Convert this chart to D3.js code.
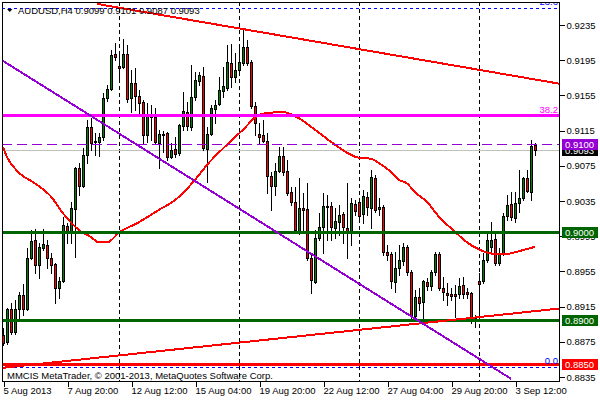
<!DOCTYPE html>
<html><head><meta charset="utf-8">
<script src="https://cdn.jsdelivr.net/npm/d3@7"></script>
<style>
body{margin:0;background:#fff}
svg{display:block}
text{font-family:"Liberation Sans",Arial,sans-serif;font-size:9.5px}
</style>
</head><body>
<svg id="c" width="600" height="400"></svg>
<script>
// ---- data (AUDUSD H4) ----
const opens=[0.8883,0.8875,0.8912,0.8886,0.8912,0.8928,0.8912,0.8970,0.8991,0.8962,
0.8982,0.8985,0.8970,0.8963,0.8936,0.8944,0.9007,0.8999,0.9026,0.9073,
0.9052,0.9087,0.9119,0.9103,0.9102,0.9108,0.9152,0.9162,0.9202,0.9188,
0.9187,0.9202,0.9152,0.9169,0.9154,0.9147,0.9110,0.9133,0.9130,0.9101,
0.9111,0.9112,0.9085,0.9094,0.9090,0.9120,0.9136,0.9119,0.9153,0.9171,
0.9177,0.9094,0.9111,0.9140,0.9145,0.9160,0.9163,0.9192,0.9176,0.9184,
0.9192,0.9210,0.9193,0.9143,0.9111,0.9110,0.9103,0.9063,0.9052,0.9069,
0.9086,0.9069,0.9045,0.9034,0.9000,0.9027,0.9026,0.8970,0.8943,0.8993,
0.9005,0.9028,0.9029,0.9004,0.9011,0.9020,0.9004,0.9001,0.9032,0.9034,
0.9020,0.9040,0.9027,0.9061,0.9026,0.9028,0.8977,0.8975,0.8943,0.8959,
0.8967,0.8983,0.8954,0.8904,0.8926,0.8920,0.8943,0.8938,0.8954,0.8975,
0.8936,0.8930,0.8929,0.8929,0.8929,0.8940,0.8932,0.8930,0.8902,0.8944,
0.8944,0.8968,0.8983,0.8992,0.8965,0.8976,0.9018,0.9032,0.9016,0.9033,
0.9038,0.9061,0.9045,0.9099];
const highs=[0.8891,0.8913,0.8919,0.8922,0.8932,0.8941,0.8982,0.9002,0.9003,0.8987,
0.9003,0.8991,0.8976,0.8965,0.8949,0.9017,0.9010,0.9034,0.9074,0.9078,
0.9095,0.9127,0.9129,0.9112,0.9112,0.9158,0.9167,0.9207,0.9215,0.9203,
0.9219,0.9212,0.9184,0.9186,0.9161,0.9150,0.9146,0.9144,0.9141,0.9116,
0.9114,0.9113,0.9101,0.9108,0.9123,0.9159,0.9148,0.9190,0.9182,0.9182,
0.9187,0.9119,0.9144,0.9150,0.9176,0.9187,0.9212,0.9213,0.9203,0.9212,
0.9229,0.9218,0.9195,0.9148,0.9124,0.9127,0.9112,0.9068,0.9078,0.9096,
0.9096,0.9082,0.9051,0.9051,0.9061,0.9044,0.9055,0.8974,0.9002,0.9021,
0.9044,0.9042,0.9034,0.9027,0.9030,0.9022,0.9055,0.9038,0.9036,0.9036,
0.9048,0.9045,0.9070,0.9065,0.9038,0.9030,0.8985,0.8977,0.8977,0.8985,
0.8987,0.8985,0.8957,0.8934,0.8936,0.8945,0.8948,0.8957,0.8977,0.8977,
0.8949,0.8942,0.8936,0.8940,0.8948,0.8949,0.8936,0.8932,0.8905,0.8953,
0.8976,0.9001,0.9011,0.9001,0.8982,0.9021,0.9042,0.9045,0.9045,0.9070,
0.9062,0.9070,0.9104,0.9101];
const lows=[0.8871,0.8873,0.8884,0.8884,0.8902,0.8905,0.8911,0.8969,0.8953,0.8948,
0.8979,0.8959,0.8953,0.8919,0.8925,0.8943,0.8987,0.8987,0.8971,0.9042,
0.9051,0.9078,0.9093,0.9087,0.9086,0.9104,0.9149,0.9161,0.9195,0.9170,
0.9186,0.9147,0.9136,0.9138,0.9135,0.9101,0.9102,0.9104,0.9101,0.9073,
0.9091,0.9082,0.9084,0.9085,0.9087,0.9116,0.9116,0.9116,0.9150,0.9167,
0.9093,0.9057,0.9110,0.9124,0.9144,0.9153,0.9161,0.9165,0.9170,0.9178,
0.9190,0.9190,0.9141,0.9110,0.9101,0.9102,0.9044,0.9025,0.9042,0.9068,
0.9065,0.9042,0.9030,0.9000,0.8997,0.9000,0.8968,0.8930,0.8942,0.8991,
0.8976,0.8991,0.8991,0.8993,0.8996,0.8987,0.8970,0.8985,0.9019,0.9016,
0.9010,0.9019,0.9004,0.9023,0.9019,0.8974,0.8968,0.8936,0.8932,0.8951,
0.8962,0.8951,0.8902,0.8902,0.8911,0.8900,0.8934,0.8934,0.8951,0.8934,
0.8922,0.8917,0.8922,0.8903,0.8925,0.8925,0.8925,0.8896,0.8892,0.8902,
0.8942,0.8966,0.8977,0.8962,0.8962,0.8974,0.9013,0.9013,0.9011,0.9023,
0.9036,0.9045,0.9036,0.9087];
const closes=[0.8874,0.8912,0.8886,0.8912,0.8928,0.8912,0.8970,0.8990,0.8962,0.8983,
0.8986,0.8970,0.8962,0.8936,0.8944,0.9008,0.8999,0.9027,0.9073,0.9052,
0.9087,0.9119,0.9101,0.9102,0.9108,0.9152,0.9162,0.9201,0.9199,0.9186,
0.9202,0.9151,0.9169,0.9154,0.9146,0.9110,0.9133,0.9130,0.9102,0.9111,
0.9110,0.9085,0.9093,0.9088,0.9121,0.9137,0.9120,0.9153,0.9173,0.9178,
0.9095,0.9111,0.9141,0.9144,0.9161,0.9166,0.9193,0.9176,0.9184,0.9193,
0.9210,0.9192,0.9143,0.9124,0.9108,0.9103,0.9063,0.9052,0.9069,0.9086,
0.9068,0.9044,0.9034,0.9002,0.9027,0.9025,0.8970,0.8945,0.8993,0.9005,
0.9029,0.9029,0.9005,0.9012,0.9019,0.9005,0.9001,0.9033,0.9024,0.9018,
0.9041,0.9028,0.9062,0.9025,0.9028,0.8977,0.8974,0.8944,0.8959,0.8968,
0.8983,0.8954,0.8904,0.8926,0.8919,0.8944,0.8938,0.8954,0.8975,0.8936,
0.8932,0.8928,0.8927,0.8927,0.8938,0.8929,0.8929,0.8901,0.8901,0.8941,
0.8968,0.8991,0.8991,0.8965,0.8976,0.9018,0.9030,0.9017,0.9033,0.9038,
0.9061,0.9046,0.9098,0.9093];

// moving average (bar index, value)
const maIdx=[0,1,4,8,12,15,19,22,24,26,29,34,39,43,48,51,56,60,64,66,70,74,78,83,89,92,94,97,99,101,103,106,109,113,116,119,123,126,129,133];
const maVal=[0.9096,0.9085,0.9067,0.9055,0.9040,0.9021,0.9002,0.8994,0.8988,0.8988,0.8999,0.9011,0.9025,0.9036,0.9059,0.9076,0.9099,0.9116,0.9133,0.9135,0.9136,0.9129,0.9116,0.9099,0.9084,0.9083,0.9078,0.9068,0.9059,0.9055,0.9045,0.9034,0.9017,0.9000,0.8988,0.8980,0.8975,0.8975,0.8978,0.8983];

// trend lines: [bar index, price] anchors
const trendUpper=[[23.5,0.9259],[139.5,0.9168]];
const trendLower=[[-1,0.8845],[139.5,0.8913]];
const trendPurple=[[-1,0.9197],[127,0.8833]];

const supportLevels=[0.9000,0.8900];
const redLevel=0.8850;
const fib382=0.9133;
const fibLevels=[0.9254,0.8846];
const fibLabels=["23.6","0.0"];
const dashedLevel=0.9100;
const bidPrice=0.9093;
const separatorIdx=[29,59,89,119];

const yTicks=[0.9235,0.9195,0.9155,0.9115,0.9075,0.9035,0.8995,0.8955,0.8915,0.8875,0.8835];
const xTickIdx=[0,16,32,48,64,80,96,112,128];
const xTickLabels=["5 Aug 2013","7 Aug 20:00","12 Aug 12:00","15 Aug 04:00","19 Aug 20:00","22 Aug 12:00","27 Aug 04:00","29 Aug 20:00","3 Sep 12:00"];
const header="AUDUSD,H4  0.9099 0.9101 0.9087 0.9093";
const copyright="MMCIS MetaTrader, \u00A9 2001-2013, MetaQuotes Software Corp.";

// ---- layout ----
const L=2,R=560,T=2,B=382;
const svg=d3.select("#c");
const x=d3.scaleLinear().domain([0,133]).range([3,535]);
const y=d3.scaleLinear().domain([0.8835,0.9235]).range([377,25]);
const GREEN="#006400", PURPLE="#9400D3";

svg.append("rect").attr("width",600).attr("height",400).attr("fill","#fff");
svg.append("clipPath").attr("id","pc").append("rect").attr("x",L).attr("y",T).attr("width",R-L).attr("height",B-T);
const g=svg.append("g").attr("clip-path","url(#pc)").attr("shape-rendering","crispEdges");

const ry=v=>Math.round(y(v));
const hline=(p,color,w,dash)=>{
  const yy=ry(p)+(w%2?0.5:0);
  const l=g.append("line").attr("x1",L).attr("x2",R).attr("y1",yy).attr("y2",yy)
    .attr("stroke",color).attr("stroke-width",w);
  if(dash) l.attr("stroke-dasharray",dash);
};

// separators
separatorIdx.forEach(i=>{
  const xx=Math.round(x(i))+0.5;
  g.append("line").attr("x1",xx).attr("x2",xx).attr("y1",T).attr("y2",B)
    .attr("stroke","#000").attr("stroke-width",1).attr("stroke-dasharray","4,3");
});
// bid line
hline(bidPrice,"#C0C0C0",1);

// candles
const cg=g.append("g");
opens.forEach((o,i)=>{
  const c=closes[i], cx=Math.round(x(i));
  cg.append("line").attr("x1",cx+0.5).attr("x2",cx+0.5)
    .attr("y1",ry(highs[i])).attr("y2",ry(lows[i])+1).attr("stroke","#000");
  const top=ry(Math.max(o,c)), bot=ry(Math.min(o,c));
  cg.append("rect").attr("x",cx-0.5).attr("y",top+0.5).attr("width",2).attr("height",Math.max(bot-top,0))
    .attr("fill",c>=o?"#008000":"#FF0000").attr("stroke","#000").attr("stroke-width",1);
});

// MA
g.append("path").datum(maIdx.map((d,k)=>[d,maVal[k]]))
  .attr("d",d3.line().x(d=>x(d[0])).y(d=>y(d[1])).curve(d3.curveMonotoneX))
  .attr("fill","none").attr("stroke","#FF0000").attr("stroke-width",2);

// horizontal objects
hline(dashedLevel,PURPLE,1,"10,5");
fibLevels.forEach(p=>hline(p,"#0000FF",1,"3,3"));
hline(fib382,"#FF00FF",3);
supportLevels.forEach(p=>hline(p,GREEN,3));
hline(redLevel,"#FF0000",3);

// trend lines
const tl=(pts,color)=>g.append("line")
  .attr("x1",x(pts[0][0])).attr("y1",y(pts[0][1])).attr("x2",x(pts[1][0])).attr("y2",y(pts[1][1]))
  .attr("stroke",color).attr("stroke-width",2);
tl(trendUpper,"#FF0000");
tl(trendLower,"#FF0000");
tl(trendPurple,PURPLE);

// fib labels
fibLevels.forEach((p,k)=>g.append("text").attr("x",558).attr("y",ry(p)-3).attr("text-anchor","end")
  .attr("fill","#0000FF").text(fibLabels[k]));
g.append("text").attr("x",558).attr("y",ry(fib382)-2).attr("text-anchor","end").attr("fill","#FF00FF").text("38.2");

// header
svg.append("path").attr("d","M7,9L12.5,9L9.75,12Z").attr("fill","#000");
svg.append("text").attr("x",18).attr("y",14).attr("fill","#000").text(header);
svg.append("text").attr("x",7).attr("y",379).attr("fill","#000").text(copyright);

// frame
svg.append("rect").attr("x",L+0.5).attr("y",T+0.5).attr("width",R-L-1).attr("height",B-T-1)
  .attr("fill","none").attr("stroke","#000").attr("shape-rendering","crispEdges");

// y axis
const ya=svg.append("g").attr("transform",`translate(${R-0.5},0)`).attr("shape-rendering","crispEdges")
  .call(d3.axisRight(y).tickValues(yTicks).tickFormat(d3.format(".4f")).tickSize(5).tickPadding(2));
ya.select(".domain").remove();
ya.selectAll("text").attr("font-family","Liberation Sans, Arial, sans-serif").attr("font-size","9.5px").attr("fill","#000");
ya.selectAll("line").attr("stroke","#000");

// x axis
const xa=svg.append("g").attr("transform",`translate(0,${B-0.5})`).attr("shape-rendering","crispEdges")
  .call(d3.axisBottom(x).tickValues(xTickIdx).tickFormat((d,k)=>xTickLabels[k]).tickSize(5).tickPadding(3));
xa.select(".domain").remove();
xa.selectAll(".tick line").attr("transform","translate(0.5,0)").attr("stroke","#000");
xa.selectAll("text").attr("text-anchor","start").attr("dx",0).attr("y",6)
  .attr("font-family","Liberation Sans, Arial, sans-serif").attr("font-size","9.5px").attr("fill","#000");

// price tags
const tags=[[bidPrice,"#000"],[dashedLevel,PURPLE],[supportLevels[0],GREEN],[supportLevels[1],GREEN],[redLevel,"#FF0000"]];
tags.forEach(([p,col])=>{
  const cy=ry(p);
  svg.append("rect").attr("x",562).attr("y",cy-5).attr("width",36).attr("height",11).attr("fill",col);
  svg.append("text").attr("x",565).attr("y",cy+0.5).attr("dy","0.35em").attr("fill","#fff").text(d3.format(".4f")(p));
});
</script>
</body></html>
